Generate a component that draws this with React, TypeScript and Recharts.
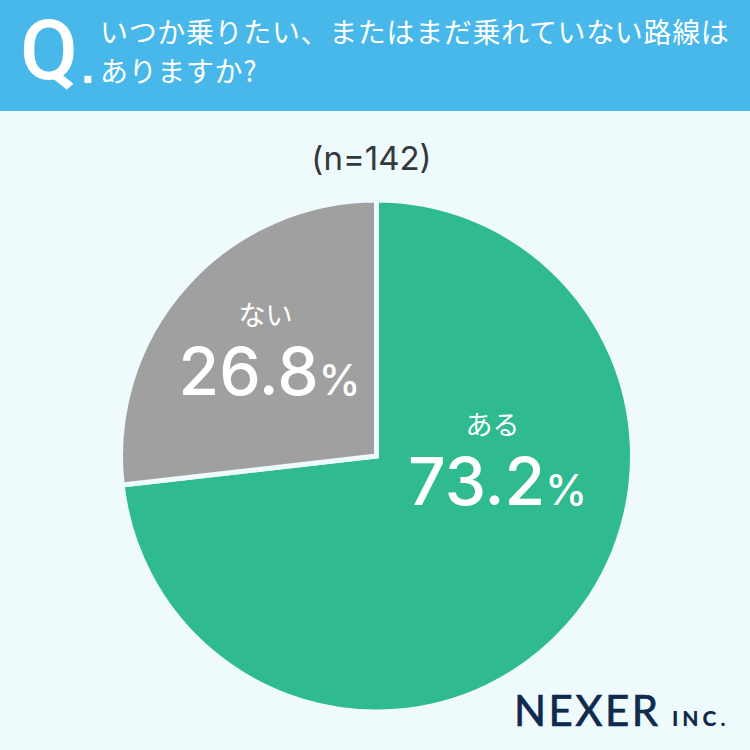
import React from 'react'
import { PieChart, Pie, Cell } from 'recharts'

const answers = ['ある', 'ない']
const shares = [73.2, 26.8]
const sliceColors = ['#2fbb8f', '#a0a0a0']
const question = ['いつか乗りたい、またはまだ乗れていない路線は', 'ありますか?']
const sampleLabel = '(n=142)'

const data = answers.map((name, i) => ({ name, value: shares[i] }))

const BG = '#eefafc'
const JP = '"Noto Sans CJK JP", sans-serif'
const NUM = 'Inter, sans-serif'

// label anchors, measured from the pie centre
const labelOffsets = [
  { x: 116, y: -21, numX: 121, numY: 49 },
  { x: -111, y: -131, numX: -107, numY: -61 }
]

function SliceLabel(props: any) {
  const { cx, cy, index } = props
  const o = labelOffsets[index]
  return (
    <g fill="#ffffff">
      <text x={cx + o.x} y={cy + o.y} textAnchor="middle" fontFamily={JP} fontSize={27} fontWeight={400}>
        {answers[index]}
      </text>
      <text x={cx + o.numX} y={cy + o.numY} textAnchor="middle" fontFamily={NUM} fontWeight={500}>
        <tspan fontSize={66}>{shares[index].toFixed(1)}</tspan>
        <tspan fontSize={42} dx={0}>%</tspan>
      </text>
    </g>
  )
}

const abs = (left: number, top: number): React.CSSProperties => ({
  position: 'absolute',
  left,
  top,
  whiteSpace: 'nowrap',
  lineHeight: 1
})

export default function App() {
  return (
    <div style={{ position: 'absolute', left: 0, top: 0, width: 750, height: 750, background: BG, overflow: 'hidden' }}>
      <div style={{ ...abs(0, 0), width: 750, height: 111, background: '#47b8e9' }} />
      <div style={{ ...abs(20, 9), color: '#fff', fontFamily: 'Roboto, sans-serif', fontSize: 84, fontWeight: 500 }}>Q</div>
      <div style={{ ...abs(81, 43), color: '#fff', fontFamily: '"Liberation Sans", sans-serif', fontSize: 48, fontWeight: 700 }}>.</div>
      {question.map((line, i) => (
        <div
          key={line}
          style={{ ...abs(100, 17 + i * 39), color: '#fff', fontFamily: JP, fontSize: 28, letterSpacing: 0.65, fontWeight: 400 }}
        >
          {line}
        </div>
      ))}
      <div style={{ ...abs(0, 142), width: 750, paddingRight: 7, boxSizing: 'border-box', textAlign: 'center', color: '#33383d', fontFamily: NUM, fontSize: 33, fontWeight: 400 }}>
        {sampleLabel}
      </div>

      <div style={{ position: 'absolute', left: 0, top: 0 }}>
        <PieChart width={750} height={750} margin={{ top: 0, right: 0, bottom: 0, left: 0 }}>
          <Pie
            data={data}
            dataKey="value"
            cx={376.5}
            cy={456}
            innerRadius={0}
            outerRadius={256}
            startAngle={90}
            endAngle={-270}
            stroke={BG}
            strokeWidth={5}
            label={SliceLabel}
            labelLine={false}
            isAnimationActive={false}
          >
            {data.map((d, i) => (
              <Cell key={d.name} fill={sliceColors[i]} />
            ))}
          </Pie>
        </PieChart>
      </div>

      <div style={{ ...abs(514, 689), color: '#0e2a4e', fontFamily: 'Lato, sans-serif', fontSize: 42, fontWeight: 400, letterSpacing: 2.5, WebkitTextStroke: '0.7px #0e2a4e' }}>NEXER</div>
      <div style={{ ...abs(672, 707), color: '#0e2a4e', fontFamily: 'Lato, sans-serif', fontSize: 21, fontWeight: 900, letterSpacing: 4 }}>INC.</div>
    </div>
  )
}
